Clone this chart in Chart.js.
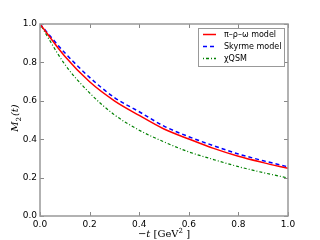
<!DOCTYPE html>
<html>
<head>
<meta charset="utf-8">
<script src="https://cdn.jsdelivr.net/npm/chart.js@4/dist/chart.umd.min.js"></script>
<style>
  html, body { margin: 0; padding: 0; background: #fff; }
  #wrap { width: 320px; height: 240px; }
</style>
</head>
<body>
<div id="wrap"><canvas id="m2Chart" width="320" height="240"></canvas></div>
<script>
const tValues = [0.0, 0.1, 0.2, 0.3, 0.4, 0.5, 0.6, 0.7, 0.8, 0.9, 1.0];
const piRhoOmega = [1.0, 0.832, 0.699, 0.600, 0.524, 0.453, 0.401, 0.352, 0.311, 0.278, 0.248];
const skyrme = [1.0, 0.850, 0.722, 0.617, 0.543, 0.468, 0.413, 0.366, 0.323, 0.288, 0.256];
const chiQSM = [1.0, 0.790, 0.641, 0.527, 0.447, 0.386, 0.334, 0.294, 0.257, 0.226, 0.198];
const tickLabels = ['0.0', '0.2', '0.4', '0.6', '0.8', '1.0'];

const pts = ys => tValues.map((t, i) => ({ x: t, y: ys[i] }));

// inward tick marks on all four sides, like the original plot
const tickMarks = {
  id: 'tickMarks',
  afterDraw(chart) {
    const { ctx, chartArea: a, scales } = chart;
    ctx.save();
    ctx.strokeStyle = '#888';
    ctx.lineWidth = 1;
    ctx.beginPath();
    tickLabels.forEach(l => {
      const v = parseFloat(l);
      const px = Math.round(scales.x.getPixelForValue(v)) + 0.5;
      ctx.moveTo(px, a.bottom); ctx.lineTo(px, a.bottom - 4);
      ctx.moveTo(px, a.top); ctx.lineTo(px, a.top + 4);
      const py = Math.round(scales.y.getPixelForValue(v)) + 0.5;
      ctx.moveTo(a.left, py); ctx.lineTo(a.left + 4, py);
      ctx.moveTo(a.right, py); ctx.lineTo(a.right - 4, py);
    });
    ctx.stroke();
    ctx.lineWidth = 1.5;
    ctx.strokeStyle = '#999';
    ctx.strokeRect(a.left, a.top, a.right - a.left, a.bottom - a.top);

    // axis titles
    ctx.fillStyle = '#000';
    ctx.textBaseline = 'alphabetic';
    ctx.font = '10px "DejaVu Serif"';
    const xt1 = '\u2212', xt2 = 't', xt3 = ' [GeV', xt4 = '2', xt5 = ' ]';
    ctx.font = '10px "DejaVu Serif"';
    const w1 = ctx.measureText(xt1).width;
    ctx.font = 'italic 10px "DejaVu Serif"';
    const w2 = ctx.measureText(xt2).width;
    ctx.font = '10px "DejaVu Serif"';
    const w3 = ctx.measureText(xt3).width;
    ctx.font = '7px "DejaVu Serif"';
    const w4 = ctx.measureText(xt4).width;
    ctx.font = '10px "DejaVu Serif"';
    const w5 = ctx.measureText(xt5).width;
    let x = (a.left + a.right) / 2 - (w1 + w2 + w3 + w4 + w5) / 2;
    const yb = 237;
    ctx.textAlign = 'left';
    ctx.font = '10px "DejaVu Serif"'; ctx.fillText(xt1, x, yb); x += w1;
    ctx.font = 'italic 10px "DejaVu Serif"'; ctx.fillText(xt2, x, yb); x += w2;
    ctx.font = '10px "DejaVu Serif"'; ctx.fillText(xt3, x, yb); x += w3;
    ctx.font = '7px "DejaVu Serif"'; ctx.fillText(xt4, x, yb - 4); x += w4;
    ctx.font = '10px "DejaVu Serif"'; ctx.fillText(xt5, x, yb);

    ctx.save();
    ctx.translate(18, 118);
    ctx.rotate(-Math.PI / 2);
    ctx.font = 'italic 10px "DejaVu Serif"';
    const m = 'M', sub = '2', rest = '(t)';
    const wm = ctx.measureText(m).width;
    ctx.font = '7px "DejaVu Serif"';
    const ws = ctx.measureText(sub).width;
    ctx.font = 'italic 10px "DejaVu Serif"';
    const wr = ctx.measureText(rest).width;
    let yx = -(wm + ws + 1 + wr) / 2;
    ctx.fillText(m, yx, 0); yx += wm;
    ctx.font = '7px "DejaVu Serif"'; ctx.fillText(sub, yx, 2.5); yx += ws + 1;
    ctx.font = 'italic 10px "DejaVu Serif"'; ctx.fillText(rest, yx, 0);
    ctx.restore();

    // legend box
    const lx = 198, ly = 28, lw = 86, lh = 38;
    ctx.fillStyle = '#fff';
    ctx.fillRect(lx, ly, lw, lh);
    ctx.strokeStyle = '#999';
    ctx.lineWidth = 1;
    ctx.strokeRect(lx + 0.5, ly + 0.5, lw, lh);
    chart.data.datasets.forEach((ds, i) => {
      const ry = ly + 6.5 + i * 12;
      ctx.beginPath();
      ctx.strokeStyle = ds.borderColor;
      ctx.lineWidth = 1.5;
      ctx.setLineDash(ds.borderDash || []);
      ctx.moveTo(lx + 5, ry); ctx.lineTo(lx + 18, ry);
      ctx.stroke();
      ctx.setLineDash([]);
      ctx.fillStyle = '#000';
      ctx.textBaseline = 'middle';
      ctx.font = '8px "DejaVu Sans"';
      ctx.fillText(ds.label, lx + 26, ry + 0.5);
    });
    ctx.restore();
  }
};

new Chart(document.getElementById('m2Chart'), {
  type: 'line',
  data: {
    datasets: [
      { label: '\u03c0\u2013\u03c1\u2013\u03c9 model', data: pts(piRhoOmega), borderColor: '#ff0000', borderWidth: 1.5 },
      { label: 'Skyrme model', data: pts(skyrme), borderColor: '#0000ff', borderWidth: 1.5, borderDash: [4, 3] },
      { label: '\u03c7QSM', data: pts(chiQSM), borderColor: '#008000', borderWidth: 1.2, borderDash: [1, 2, 3, 2] }
    ]
  },
  options: {
    responsive: false,
    animation: false,
    devicePixelRatio: 1,
    layout: { padding: { left: 0, top: 24, right: 32, bottom: 0 } },
    elements: {
      point: { radius: 0 },
      line: { tension: 0.4, cubicInterpolationMode: 'monotone', fill: false }
    },
    plugins: { legend: { display: false }, tooltip: { enabled: false } },
    scales: {
      x: {
        type: 'linear', min: 0, max: 1,
        afterFit: s => { s.height = 24; },
        afterBuildTicks: s => { s.ticks = tickLabels.map(l => ({ value: parseFloat(l) })); },
        grid: { display: false, drawTicks: false },
        border: { display: false },
        ticks: { padding: 3, color: '#000', font: { family: 'DejaVu Sans', size: 9 }, maxRotation: 0, callback: v => v.toFixed(1) }
      },
      y: {
        type: 'linear', min: 0, max: 1,
        afterFit: s => { s.width = 40; },
        afterBuildTicks: s => { s.ticks = tickLabels.map(l => ({ value: parseFloat(l) })); },
        grid: { display: false, drawTicks: false },
        border: { display: false },
        ticks: { padding: 3, color: '#000', font: { family: 'DejaVu Sans', size: 9 }, callback: v => v.toFixed(1) }
      }
    }
  },
  plugins: [tickMarks]
});
</script>
</body>
</html>
